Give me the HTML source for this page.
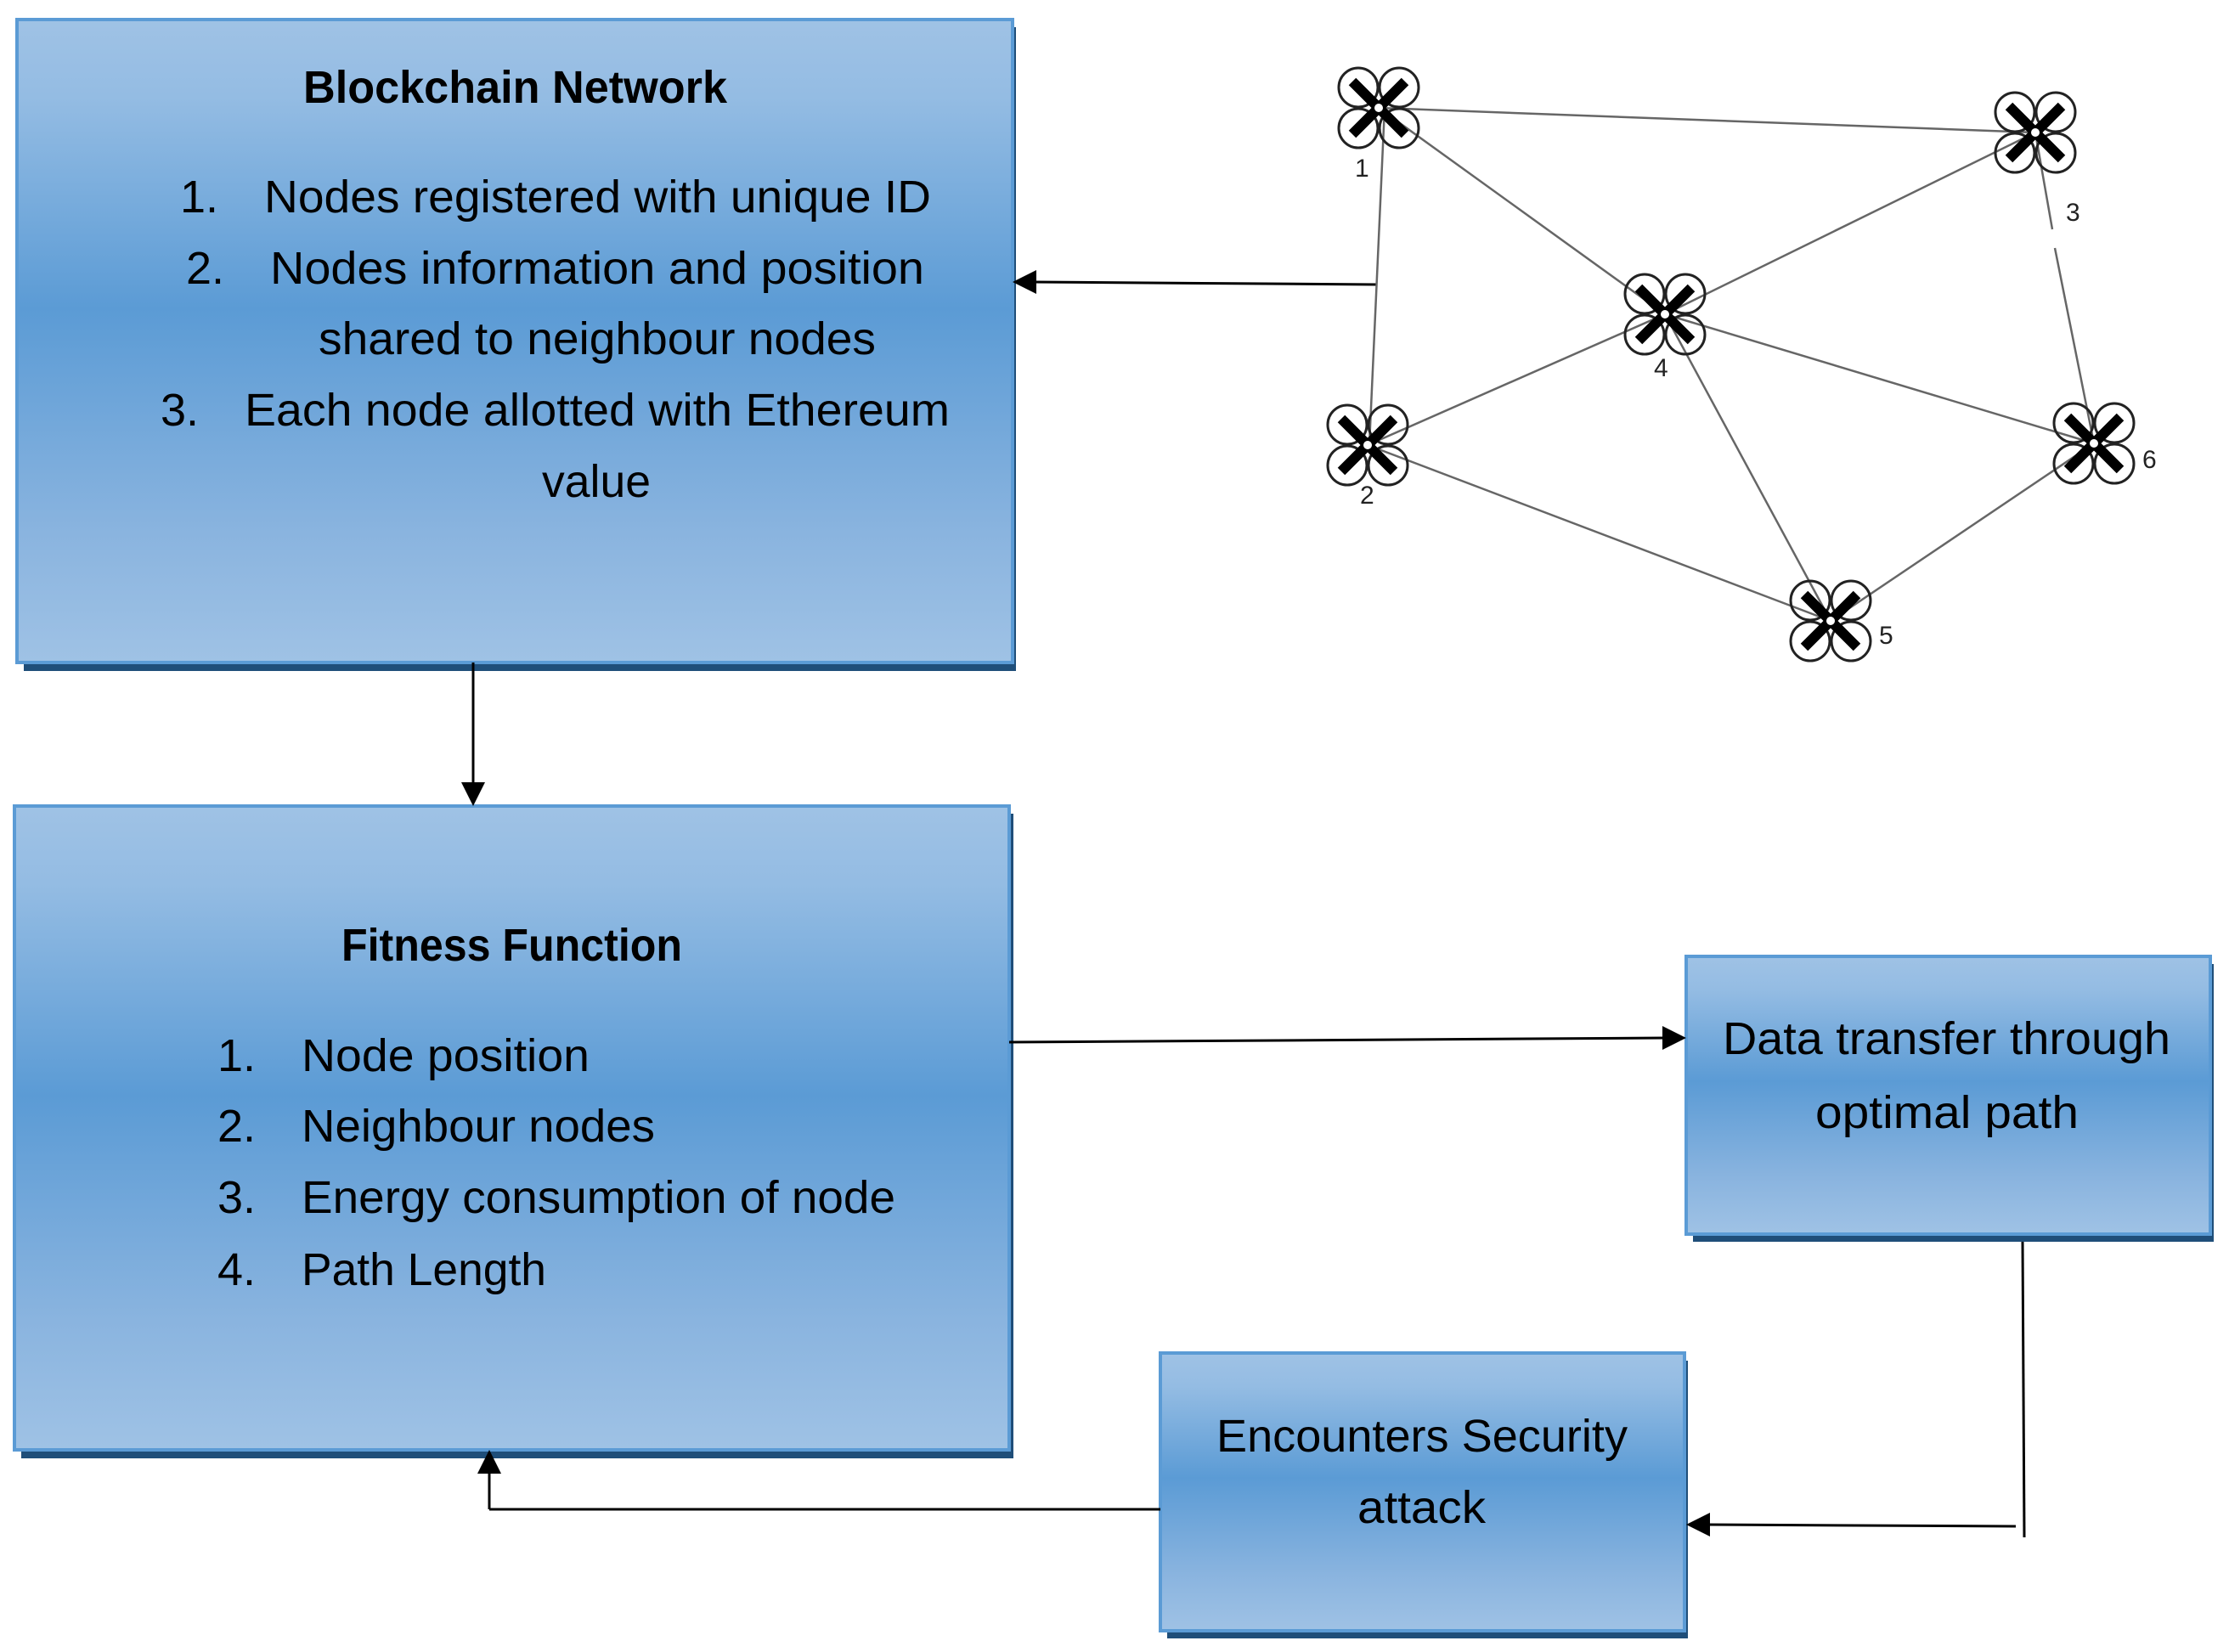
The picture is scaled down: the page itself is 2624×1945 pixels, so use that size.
<!DOCTYPE html>
<html><head><meta charset="utf-8"><style>html,body{margin:0;padding:0;background:#fff}svg{display:block}</style></head>
<body>
<svg width="2624" height="1945" viewBox="0 0 2624 1945" xmlns="http://www.w3.org/2000/svg" font-family="Liberation Sans, sans-serif">
<defs>
<linearGradient id="g" x1="0" y1="0" x2="0" y2="1">
<stop offset="0" stop-color="#9fc2e5"/><stop offset="0.12" stop-color="#94bce3"/><stop offset="0.45" stop-color="#5b9bd5"/><stop offset="0.8" stop-color="#8ab4df"/><stop offset="1" stop-color="#9fc2e5"/>
</linearGradient>
<g id="drone">
<circle cx="-24" cy="-24" r="23" fill="none" stroke="#222" stroke-width="3"/>
<circle cx="24" cy="-24" r="23" fill="none" stroke="#222" stroke-width="3"/>
<circle cx="-24" cy="24" r="23" fill="none" stroke="#222" stroke-width="3"/>
<circle cx="24" cy="24" r="23" fill="none" stroke="#222" stroke-width="3"/>
<line x1="-31" y1="-31" x2="31" y2="31" stroke="#000" stroke-width="12"/>
<line x1="31" y1="-31" x2="-31" y2="31" stroke="#000" stroke-width="12"/>
<circle r="6" fill="#fff" stroke="#000" stroke-width="2"/>
</g>
</defs>
<rect x="28" y="32" width="1168" height="758" fill="#1f4e79"/>
<rect x="20" y="23" width="1172" height="757" fill="url(#g)" stroke="#5b9bd5" stroke-width="4"/>
<rect x="25" y="958" width="1168" height="759" fill="#1f4e79"/>
<rect x="17" y="949" width="1171" height="758" fill="url(#g)" stroke="#5b9bd5" stroke-width="4"/>
<rect x="1993" y="1135" width="613" height="327" fill="#1f4e79"/>
<rect x="1985" y="1126" width="617" height="327" fill="url(#g)" stroke="#5b9bd5" stroke-width="4"/>
<rect x="1374" y="1602" width="613" height="327" fill="#1f4e79"/>
<rect x="1366" y="1593" width="617" height="327" fill="url(#g)" stroke="#5b9bd5" stroke-width="4"/>

<g font-size="54" fill="#000">
<text x="357" y="121" font-weight="bold" textLength="499" lengthAdjust="spacingAndGlyphs">Blockchain Network</text>
<text x="212" y="250">1.</text><text x="311" y="250" textLength="785" lengthAdjust="spacingAndGlyphs">Nodes registered with unique ID</text>
<text x="219" y="334">2.</text><text x="318" y="334" textLength="770" lengthAdjust="spacingAndGlyphs">Nodes information and position</text>
<text x="375" y="417" textLength="656" lengthAdjust="spacingAndGlyphs">shared to neighbour nodes</text>
<text x="189" y="501">3.</text><text x="288" y="501" textLength="830" lengthAdjust="spacingAndGlyphs">Each node allotted with Ethereum</text>
<text x="638" y="585" textLength="128" lengthAdjust="spacingAndGlyphs">value</text>

<text x="402" y="1131" font-weight="bold" textLength="401" lengthAdjust="spacingAndGlyphs">Fitness Function</text>
<text x="256" y="1261">1.</text><text x="355" y="1261" textLength="339" lengthAdjust="spacingAndGlyphs">Node position</text>
<text x="256" y="1344">2.</text><text x="355" y="1344" textLength="416" lengthAdjust="spacingAndGlyphs">Neighbour nodes</text>
<text x="256" y="1428">3.</text><text x="355" y="1428" textLength="699" lengthAdjust="spacingAndGlyphs">Energy consumption of node</text>
<text x="256" y="1513">4.</text><text x="355" y="1513" textLength="288" lengthAdjust="spacingAndGlyphs">Path Length</text>

<text x="2028" y="1241" textLength="527" lengthAdjust="spacingAndGlyphs">Data transfer through</text>
<text x="2137" y="1328" textLength="310" lengthAdjust="spacingAndGlyphs">optimal path</text>
<text x="1432" y="1709" textLength="484" lengthAdjust="spacingAndGlyphs">Encounters Security</text>
<text x="1598" y="1793" textLength="151" lengthAdjust="spacingAndGlyphs">attack</text>
</g>

<g stroke="#000" stroke-width="3" fill="none">
<line x1="1620" y1="335" x2="1215" y2="332"/>
<line x1="557" y1="780" x2="557" y2="925"/>
<line x1="1188" y1="1227" x2="1960" y2="1222"/>
<line x1="2381" y1="1462" x2="2383" y2="1810"/>
<line x1="2373" y1="1797" x2="2008" y2="1795"/>
<line x1="1366" y1="1777" x2="576" y2="1777"/>
<line x1="576" y1="1777" x2="576" y2="1730"/>
</g>
<g fill="#000">
<polygon points="1192,332 1220,318 1220,346"/>
<polygon points="557,949 543,921 571,921"/>
<polygon points="1985,1222 1957,1208 1957,1236"/>
<polygon points="1985,1795 2013,1781 2013,1809"/>
<polygon points="576,1707 562,1735 590,1735"/>
</g>

<g stroke="#666" stroke-width="2.5">
<line x1="1623" y1="127" x2="2396" y2="156"/>
<line x1="1623" y1="127" x2="1960" y2="370"/>
<line x1="1630" y1="127" x2="1612" y2="524"/>
<line x1="2396" y1="156" x2="1960" y2="370"/>
<line x1="2396" y1="156" x2="2416" y2="270"/>
<line x1="2419" y1="292" x2="2465" y2="522"/>
<line x1="1960" y1="370" x2="1610" y2="524"/>
<line x1="1960" y1="370" x2="2465" y2="522"/>
<line x1="1960" y1="370" x2="2155" y2="731"/>
<line x1="1610" y1="524" x2="2155" y2="731"/>
<line x1="2155" y1="731" x2="2465" y2="522"/>
</g>
<use href="#drone" x="1623" y="127"/>
<use href="#drone" x="2396" y="156"/>
<use href="#drone" x="1960" y="370"/>
<use href="#drone" x="1610" y="524"/>
<use href="#drone" x="2465" y="522"/>
<use href="#drone" x="2155" y="731"/>
<g font-size="30" fill="#222">
<text x="1595" y="208">1</text>
<text x="1601" y="593">2</text>
<text x="2432" y="260">3</text>
<text x="1947" y="443">4</text>
<text x="2212" y="758">5</text>
<text x="2522" y="551">6</text>
</g>
</svg>
</body></html>
